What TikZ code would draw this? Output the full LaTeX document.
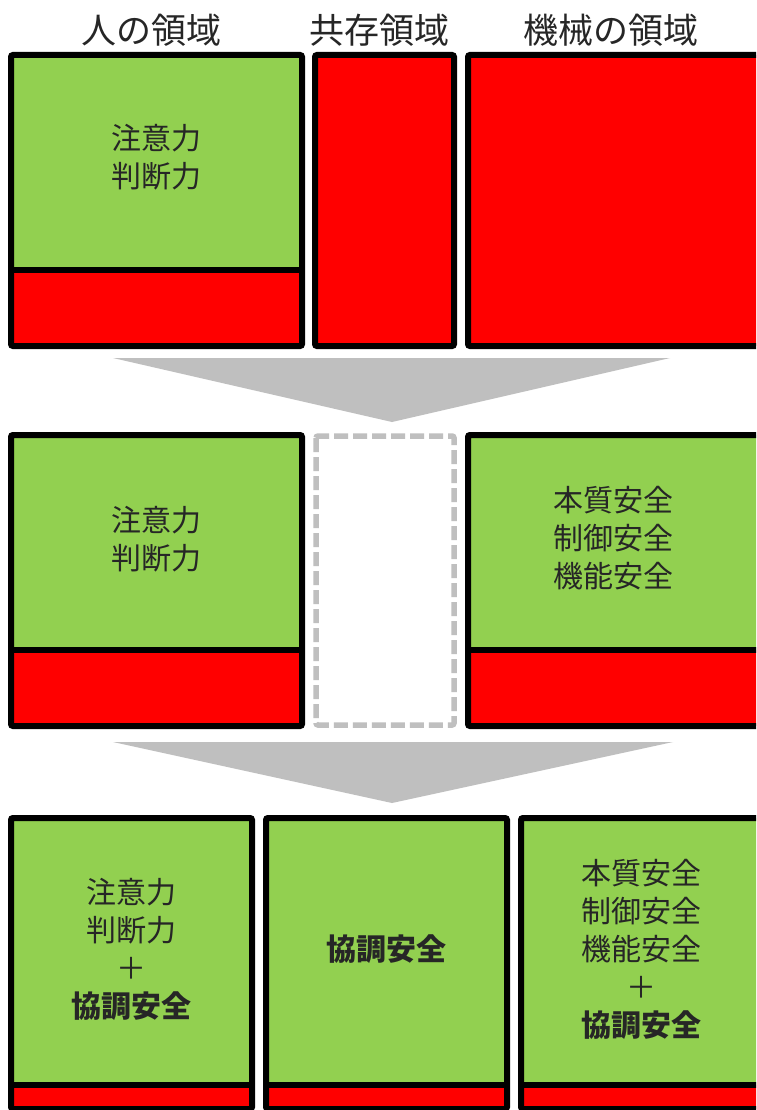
\documentclass[tikz,border=0pt]{standalone}
\usepackage{fontspec}
\setmainfont{Noto Sans CJK JP}
\definecolor{grn}{HTML}{92D050}
\definecolor{rd}{HTML}{FF0000}
\definecolor{gry}{HTML}{BFBFBF}
\definecolor{txt}{HTML}{262626}
\tikzset{
  frame/.style={draw=black, line width=6pt, rounded corners=2pt},
  divider/.style={draw=black, line width=6pt},
  dashframe/.style={draw=gry, line width=5.5pt, dash pattern=on 14pt off 5pt, rounded corners=2pt},
  arrowshape/.style={fill=gry, draw=none},
  head/.style={font=\fontsize{35}{40}\selectfont, text=txt, inner sep=0pt},
  body/.style={font=\fontsize{30}{38}\selectfont, text=txt, align=center, inner sep=0pt},
}
\begin{document}
\begin{tikzpicture}[x=1pt,y=-1pt]
\useasboundingbox (0,0) rectangle (756,1110);
\clip (0,0) rectangle (756,1110);
\fill[white] (0,0) rectangle (756,1110);

% headers
\node[head] (h1) at (151,30) {人の領域};
\node[head] (h2) at (379,30) {共存領域};
\node[head] (h3) at (611,30) {機械の領域};

% ---- row 1 ----
\fill[grn] (11,55) rectangle (302,270);
\fill[rd] (11,270) rectangle (302,346);
\draw[divider] (11,270) -- (302,270);
\draw[frame] (11,55) rectangle (302,346);
\fill[rd] (315,55) rectangle (454,346);
\draw[frame] (315,55) rectangle (454,346);
\fill[rd] (468,55) rectangle (800,346);
\draw[frame] (468,55) rectangle (800,346);
\node[body] (t11) at (156,157) {注意力\\判断力};

% arrow 1
\fill[arrowshape] (113,358) -- (670,358) -- (392,422) -- cycle;

% ---- row 2 ----
\fill[grn] (11,435) rectangle (302,650);
\fill[rd] (11,650) rectangle (302,726);
\draw[divider] (11,650) -- (302,650);
\draw[frame] (11,435) rectangle (302,726);
\draw[dashframe] (316,436) rectangle (454,725);
\fill[grn] (468,435) rectangle (800,650);
\fill[rd] (468,650) rectangle (800,726);
\draw[divider] (468,650) -- (800,650);
\draw[frame] (468,435) rectangle (800,726);
\node[body] (t21) at (156,539) {注意力\\判断力};
\node[body] (t23) at (613,538) {本質安全\\制御安全\\機能安全};

% arrow 2
\fill[arrowshape] (113,742) -- (673,742) -- (392,803) -- cycle;

% ---- row 3 ----
\fill[grn] (11,818) rectangle (252,1085);
\fill[rd] (11,1085) rectangle (252,1109);
\draw[divider] (11,1085) -- (252,1085);
\draw[frame] (11,818) rectangle (252,1109);
\fill[grn] (266,818) rectangle (507,1085);
\fill[rd] (266,1085) rectangle (507,1109);
\draw[divider] (266,1085) -- (507,1085);
\draw[frame] (266,818) rectangle (507,1109);
\fill[grn] (521,818) rectangle (800,1085);
\fill[rd] (521,1085) rectangle (800,1109);
\draw[divider] (521,1085) -- (800,1085);
\draw[frame] (521,818) rectangle (800,1109);
\node[body] (t31) at (131.5,949) {注意力\\判断力\\＋\\\textbf{協調安全}};
\node[body] (t32) at (386,949) {\textbf{協調安全}};
\node[body] (t33) at (641,949) {本質安全\\制御安全\\機能安全\\＋\\\textbf{協調安全}};
\end{tikzpicture}
\end{document}
